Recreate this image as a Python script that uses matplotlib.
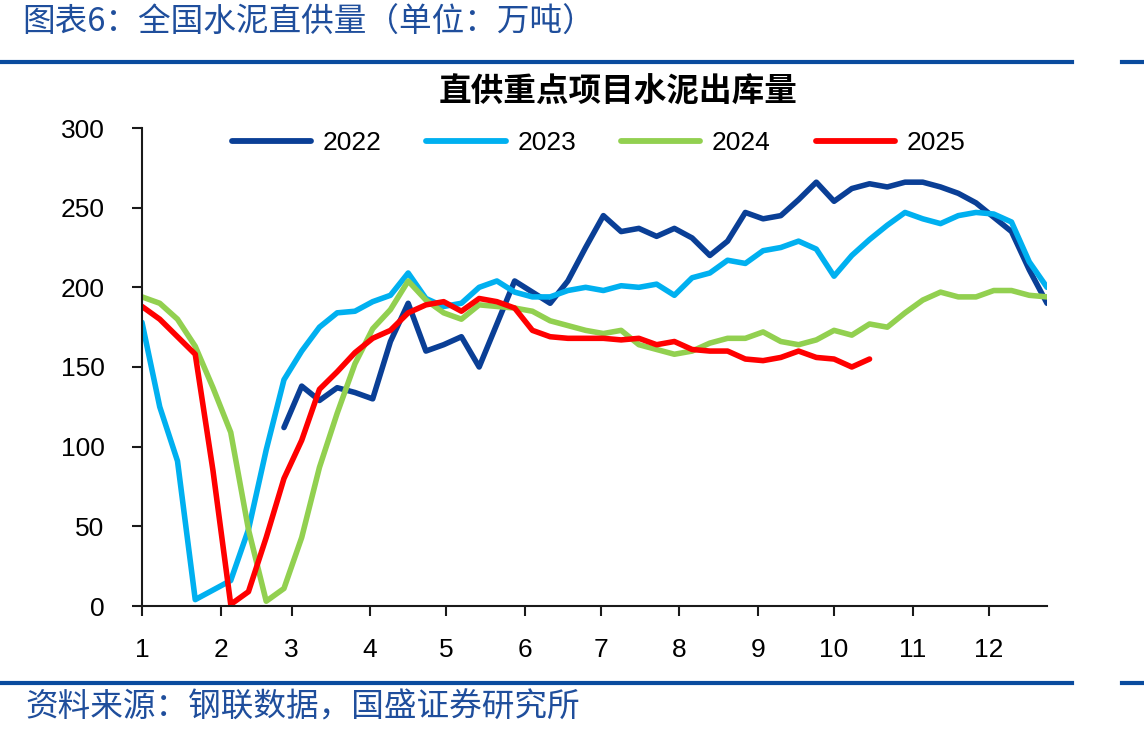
import matplotlib
matplotlib.use("Agg")
import matplotlib.pyplot as plt
from matplotlib.lines import Line2D
import numpy as np

plt.rcParams['font.family'] = ['Liberation Sans', 'Noto Sans CJK SC', 'DejaVu Sans']

# ---------------- data (weekly, week index 0..51) ----------------
months = ['1', '2', '3', '4', '5', '6', '7', '8', '9', '10', '11', '12']
month_start_doy = [0, 31, 59, 90, 120, 151, 181, 212, 243, 273, 304, 334]

y2022 = [None] * 8 + [112, 138, 129, 137, 134, 130, 166, 190, 160, 164,
                      169, 150, 177, 204, 197, 190, 204, 225, 245, 235,
                      237, 232, 237, 231, 220, 229, 247, 243, 245, 255,
                      266, 254, 262, 265, 263, 266, 266, 263, 259, 253,
                      244, 235, 211, 190]
y2023 = [178, 125, 91, 4, 10, 16, 48, 98, 142, 160,
         175, 184, 185, 191, 195, 209, 193, 188, 190, 200,
         204, 197, 194, 194, 198, 200, 198, 201, 200, 202,
         195, 206, 209, 217, 215, 223, 225, 229, 224, 207,
         220, 230, 239, 247, 243, 240, 245, 247, 246, 241,
         216, 200]
y2024 = [194, 190, 180, 163, 137, 109, 48, 3, 11, 43,
         87, 121, 152, 174, 186, 204, 192, 184, 180, 189,
         188, 187, 185, 179, 176, 173, 171, 173, 164, 161,
         158, 160, 165, 168, 168, 172, 166, 164, 167, 173,
         170, 177, 175, 184, 192, 197, 194, 194, 198, 198,
         195, 194]
y2025 = [188, 180, 169, 158, 85, 1, 9, 43, 80, 104,
         136, 147, 159, 168, 173, 184, 189, 191, 185, 193,
         191, 187, 173, 169, 168, 168, 168, 167, 168, 164,
         166, 161, 160, 160, 155, 154, 156, 160, 156, 155,
         150, 155]

series = [('2022', y2022, '#0a3f96'),
          ('2023', y2023, '#00b0f0'),
          ('2024', y2024, '#92d050'),
          ('2025', y2025, '#ff0000')]

# ---------------- figure ----------------
W, H = 1144, 737
fig = plt.figure(figsize=(W / 100, H / 100), dpi=100)

ax = fig.add_axes([142 / W, 1 - 606 / H, (1047 - 142) / W, (606 - 128) / H])

for label, vals, color in series:
    x = np.arange(len(vals))
    y = np.array([np.nan if v is None else v for v in vals], dtype=float)
    ax.plot(x, y, color=color, lw=4.0, label=label,
            solid_joinstyle='round', solid_capstyle='round')

ax.set_xlim(0, 51)
ax.set_ylim(0, 300)
ax.set_yticks(np.arange(0, 301, 50))
ax.set_xticks([d / 7 for d in month_start_doy])
ax.set_xticklabels(months)

for s in ['top', 'right']:
    ax.spines[s].set_visible(False)
for s in ['left', 'bottom']:
    ax.spines[s].set_linewidth(1.5)
    ax.spines[s].set_color('#1a1a1a')

ax.tick_params(axis='y', direction='out', length=7, width=1.5, pad=20,
               labelsize=19, colors='#1a1a1a', labelcolor='black')
ax.tick_params(axis='x', direction='out', length=7, width=1.5, pad=16,
               labelsize=19, colors='#1a1a1a', labelcolor='black')

leg = ax.legend(loc='center left', bbox_to_anchor=(0.099, 0.9686), ncol=4,
                frameon=False, fontsize=19, handlelength=3.0,
                handletextpad=0.45, columnspacing=1.7, borderpad=0,
                borderaxespad=0)
for h in leg.get_lines():
    h.set_linewidth(4.2)

# chart title
fig.text(618 / W, 1 - 92 / H, '直供重点项目水泥出库量', ha='center', va='center',
         fontsize=23.5, fontweight='bold', color='black',
         family=['Noto Sans CJK SC', 'DejaVu Sans'])

# header title
blue = '#1f4e9c'
fig.text(22 / W, 1 - 23 / H, '图表6：全国水泥直供量（单位：万吨）', ha='left',
         va='center', fontsize=23.5, color=blue, style='italic',
         family=['Noto Sans CJK SC', 'DejaVu Sans'])

# separator lines
line_blue = '#0a4b9e'
for yy in (62, 683):
    fig.add_artist(Line2D([0, 1072 / W], [1 - yy / H, 1 - yy / H],
                          color=line_blue, lw=3, transform=fig.transFigure))
    fig.add_artist(Line2D([1122 / W, 1], [1 - yy / H, 1 - yy / H],
                          color=line_blue, lw=3, transform=fig.transFigure))

# source
fig.text(25 / W, 1 - 707 / H, '资料来源：钢联数据，国盛证券研究所', ha='left',
         va='center', fontsize=23.5, color=blue, style='italic',
         family=['Noto Sans CJK SC', 'DejaVu Sans'])

fig.savefig('out.png', dpi=100)
